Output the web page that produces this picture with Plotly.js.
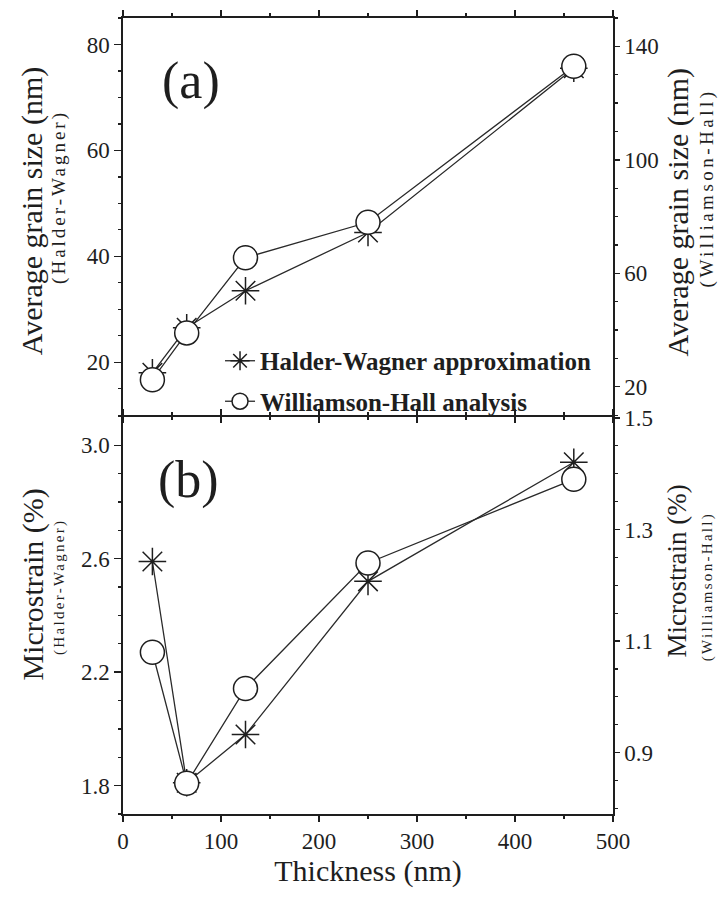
<!DOCTYPE html>
<html>
<head>
<meta charset="utf-8">
<script src="https://cdn.plot.ly/plotly-3.0.1.min.js"></script>
<style>
  html, body { margin: 0; padding: 0; background: #fff; }
  #chart { width: 719px; height: 900px; }
</style>
</head>
<body>
<div id="chart"></div>
<script>
// Film thickness (nm)
const thickness = [30, 65, 125, 250, 460];

// (a) Average grain size (nm)
const grainHW = [18, 26.5, 33.5, 44.5, 75.5];     // Halder-Wagner, left axis
const grainWH = [22.5, 39, 65.5, 78, 133];        // Williamson-Hall, right axis

// (b) Microstrain (%)
const strainHW = [2.59, 1.81, 1.98, 2.52, 2.94];  // Halder-Wagner, left axis
const strainWH = [1.08, 0.845, 1.015, 1.24, 1.39]; // Williamson-Hall, right axis

const seriesNames = ['Halder-Wagner approximation', 'Williamson-Hall analysis'];

const serif = 'Liberation Serif, Times New Roman, serif';
const ink = '#1e1e1e';

const lineStyle = { color: '#2a2a2a', width: 1.3 };
const starMarker = { symbol: 'asterisk-open', size: 23, color: ink, line: { color: ink, width: 1.5 } };
const circleMarker = { symbol: 'circle', size: 24, color: '#ffffff', line: { color: ink, width: 1.5 } };

const traces = [
  { x: thickness, y: grainHW, xaxis: 'x', yaxis: 'y', mode: 'lines+markers',
    name: seriesNames[0], legendgroup: 'hw', line: lineStyle, marker: starMarker },
  { x: thickness, y: grainWH, xaxis: 'x', yaxis: 'y2', mode: 'lines+markers',
    name: seriesNames[1], legendgroup: 'wh', line: lineStyle, marker: circleMarker },
  { x: thickness, y: strainHW, xaxis: 'x2', yaxis: 'y3', mode: 'lines+markers',
    name: seriesNames[0], legendgroup: 'hw', showlegend: false, line: lineStyle, marker: starMarker },
  { x: thickness, y: strainWH, xaxis: 'x2', yaxis: 'y4', mode: 'lines+markers',
    name: seriesNames[1], legendgroup: 'wh', showlegend: false, line: lineStyle, marker: circleMarker }
];

const tickFont = { family: serif, size: 23, color: ink };
const frameWidth = 1.6;

function xAxis(anchor, labels) {
  return {
    domain: [0, 1], anchor: anchor, range: [0, 500],
    tick0: 0, dtick: 100, ticks: 'outside', ticklen: 6, tickwidth: 1.3, tickcolor: ink,
    minor: { dtick: 50, ticks: 'outside', ticklen: 3, tickwidth: 1.2, tickcolor: ink },
    showticklabels: labels, tickfont: tickFont,
    showline: true, linecolor: ink, linewidth: frameWidth, mirror: 'ticks',
    showgrid: false, zeroline: false
  };
}

function yAxis(opts) {
  return Object.assign({
    ticks: 'outside', ticklen: 6, tickwidth: 1.3, tickcolor: ink,
    tickfont: tickFont, showline: true, linecolor: ink, linewidth: frameWidth,
    showgrid: false, zeroline: false
  }, opts);
}

function vTitle(text, x, y, size, spacing) {
  const body = spacing ? '<span style="letter-spacing:' + spacing + 'px">' + text + '</span>' : text;
  return { text: body, xref: 'paper', yref: 'paper', x: x, y: y,
    xanchor: 'center', yanchor: 'middle', textangle: -90, showarrow: false,
    font: { family: serif, size: size, color: ink } };
}

// axis lines sit half a line width outside each plot area, so the panels are
// pulled apart by that much and the bottom line of (a) and the top line of (b)
// fall on the same pixels as one shared divider
const plotH = 900 - 18 - 86;
const halfLine = (frameWidth / 2) / plotH;
const domainA = [0.5 + halfLine, 1];
const domainB = [0, 0.5 - halfLine];

const layout = {
  width: 719, height: 900,
  margin: { l: 123, r: 106, t: 18, b: 86 },
  paper_bgcolor: '#ffffff', plot_bgcolor: '#ffffff',
  showlegend: true,
  legend: {
    x: 0.198, y: 0.598, xanchor: 'left', yanchor: 'top',
    bgcolor: 'rgba(0,0,0,0)', borderwidth: 0, tracegroupgap: 5,
    font: { family: serif, size: 25, color: ink, weight: 'bold' }
  },
  xaxis: xAxis('y', false),
  xaxis2: Object.assign(xAxis('y3', true), {
    title: { text: 'Thickness (nm)', font: { family: serif, size: 30, color: ink }, standoff: 2 }
  }),
  yaxis: yAxis({ domain: domainA, anchor: 'x', side: 'left', range: [10, 85],
    tick0: 0, dtick: 20, ticklen: 7,
    minor: { dtick: 5, ticks: 'outside', ticklen: 3, tickcolor: ink } }),
  yaxis2: yAxis({ overlaying: 'y', anchor: 'x', side: 'right', range: [10, 150],
    tick0: 20, dtick: 40, ticklen: 5,
    minor: { dtick: 10, ticks: 'outside', ticklen: 3, tickcolor: ink } }),
  yaxis3: yAxis({ domain: domainB, anchor: 'x2', side: 'left', range: [1.7, 3.1],
    tick0: 1.8, dtick: 0.4, tickformat: '.1f', ticklen: 7,
    minor: { dtick: 0.1, ticks: 'outside', ticklen: 3, tickcolor: ink } }),
  yaxis4: yAxis({ overlaying: 'y3', anchor: 'x2', side: 'right', range: [0.79, 1.502],
    tick0: 0.9, dtick: 0.2, tickformat: '.1f', ticklen: 5,
    minor: { dtick: 0.05, ticks: 'outside', ticklen: 3, tickcolor: ink } }),
  annotations: [
    // panel labels
    { text: '(a)', xref: 'paper', yref: 'paper', x: 0.139, y: 0.921, xanchor: 'center', yanchor: 'middle',
      showarrow: false, font: { family: serif, size: 52, color: ink } },
    { text: '(b)', xref: 'paper', yref: 'paper', x: 0.133, y: 0.42, xanchor: 'center', yanchor: 'middle',
      showarrow: false, font: { family: serif, size: 52, color: ink } },
    // (a) axis titles
    vTitle('Average grain size (nm)', -0.184, 0.757, 30),
    vTitle('(Halder-Wagner)', -0.131, 0.775, 19, 3),
    vTitle('Average grain size (nm)', 1.133, 0.756, 30),
    vTitle('(Williamson-Hall)', 1.192, 0.786, 19, 3.5),
    // (b) axis titles
    vTitle('Microstrain (%)', -0.184, 0.288, 30),
    vTitle('(Halder-Wagner)', -0.131, 0.285, 15, 2.3),
    vTitle('Microstrain (%)', 1.131, 0.305, 27),
    vTitle('(Williamson-Hall)', 1.192, 0.285, 15, 2.3)
  ]
};

Plotly.newPlot('chart', traces, layout, { staticPlot: true, displayModeBar: false });
</script>
</body>
</html>
